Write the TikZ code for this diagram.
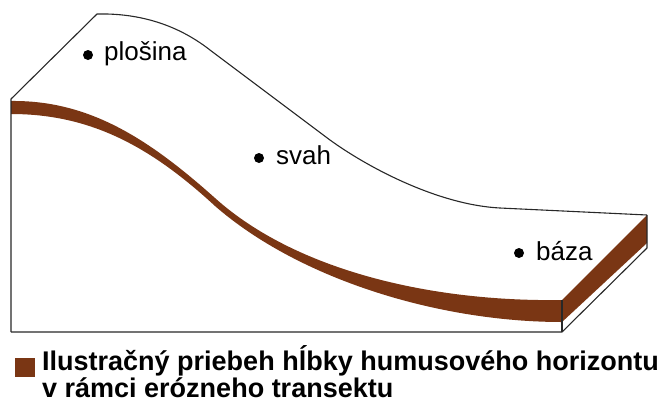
\documentclass[tikz,border=0pt]{standalone}
\usepackage{fontspec}
\setmainfont{Liberation Sans}
\definecolor{humus}{RGB}{122,54,20}
\definecolor{edgegray}{RGB}{40,40,40}
\begin{document}
\begin{tikzpicture}[x=1bp,y=-1bp,
  outline/.style={draw=edgegray, line width=1.1bp, line join=round},
  site/.style={font=\fontsize{26bp}{30bp}\selectfont, anchor=base west, inner sep=0pt},
  spot/.style={fill=black},
  keytext/.style={font=\bfseries\fontsize{27bp}{20bp}\selectfont, anchor=base west, align=left, inner sep=0pt}]
\useasboundingbox (0,0) rectangle (664,410);

% humus horizon along the front face of the block
\fill[humus] (11,101) .. controls (90,100) and (150,140) .. (215,198)
  .. controls (295,270) and (430,302) .. (562,300)
  -- (562,322) .. controls (440,322) and (300,280) .. (215,206)
  .. controls (150,146) and (90,114) .. (11,114) -- cycle;
% humus horizon on the side face
\fill[humus] (562,300) -- (647,215) -- (647,243) -- (562,322) -- cycle;

% block edges
\coordinate (tl) at (11,99);
\coordinate (peak) at (97,14);
\coordinate (tr) at (647,215);
\coordinate (br) at (647,248);
\coordinate (fbr) at (562,332);
\coordinate (fbl) at (11,332);
\coordinate (ftr) at (562,300);
\draw[outline] (fbl) -- (tl) -- (peak)
  .. controls (140,13) and (178,25) .. (210,50)
  -- (330,140) .. controls (370,169) and (440,205) .. (500,208)
  -- (tr);
\draw[outline] (tr) -- (br) -- (fbr) -- (fbl);
\draw[outline] (ftr) -- (fbr);

% sites on the transect
\fill[spot] (88,55) circle [radius=5bp];
\node[site] (plosina) at (104,60) {plošina};
\fill[spot] (259,158) circle [radius=5bp];
\node[site] (svah) at (276,164) {svah};
\fill[spot] (519,253) circle [radius=5bp];
\node[site] (baza) at (536,260) {báza};

% legend
\fill[humus] (15,358) rectangle (35,377);
\node[keytext] (key) at (42,397) {Ilustračný priebeh hĺbky humusového horizontu\\v rámci erózneho transektu};
\end{tikzpicture}
\end{document}
